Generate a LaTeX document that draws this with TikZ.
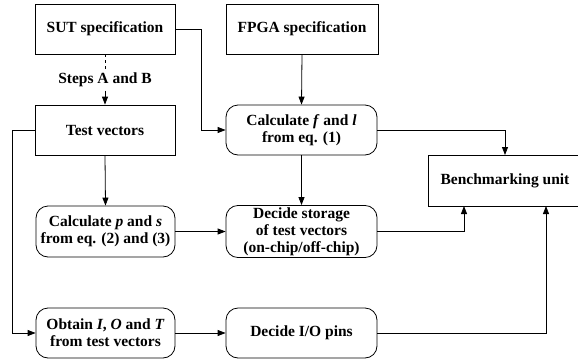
\documentclass[tikz,border=0pt]{standalone}
\usepackage{fontspec}
\setmainfont{Liberation Serif}
\usetikzlibrary{arrows.meta}
\tikzset{
  blk/.style={draw, thick, minimum width=140pt, minimum height=50pt, align=center,
    font=\fontsize{15.5}{17}\selectfont\bfseries, inner sep=2pt},
  rblk/.style={blk, rounded corners=12pt},
  conn/.style={thick, -{Triangle[length=8pt,width=6pt]}}
}
\begin{document}
\begin{tikzpicture}[x=1pt,y=-1pt]
\useasboundingbox (0,0) rectangle (578,362);
% top row
\node[blk] (sut) at (105,29) {SUT specification};
\node[blk, minimum width=152pt] (fpga) at (302,29) {FPGA specification};
\node[font=\fontsize{15.5}{17}\selectfont\bfseries] (steps) at (105,80) {Steps A and B};
% second row
\node[blk] (tv) at (105,130) {Test vectors};
\node[rblk, minimum width=151pt] (calcf) at (301.5,130) {Calculate \textit{f} and \textit{l}\\from eq. (1)};
\node[blk, minimum width=160pt, minimum height=51pt, xshift=3pt] (bench) at (505,180.5) {\hspace*{-6pt}Benchmarking unit};
% third row
\node[rblk, minimum width=139pt, minimum height=51pt] (calcp) at (105.5,231.5) {Calculate \textit{p} and \textit{s}\\from eq. (2) and (3)};
\node[rblk, minimum width=151pt, minimum height=51pt] (store) at (301.5,231.5) {Decide storage\\of test vectors\\(on-chip/off-chip)};
% bottom row
\node[rblk, minimum width=139pt] (obtain) at (105.5,333) {Obtain \textit{I}, \textit{O} and \textit{T}\\from test vectors};
\node[rblk, minimum width=151pt] (pins) at (301.5,333) {Decide I/O pins};
% connectors
\draw[thick, dashed] (sut.south) -- (steps.north);
\draw[conn] (steps.south) -- (tv.north);
\draw[conn] (sut.east) -| (201,130) -- (calcf.west);
\draw[conn] (fpga.south) -- (calcf.north);
\draw[conn] (calcf.east) -| (505,155);
\draw[conn] (calcf.south) -- (store.north);
\draw[conn] (tv.south) -- (calcp.north);
\draw[conn] (calcp.east) -- (store.west);
\draw[conn] (tv.west) -| (12,333) -- (obtain.west);
\draw[conn] (obtain.east) -- (pins.west);
\draw[conn] (store.east) -| (464,206);
\draw[conn] (pins.east) -| (546,206);
\end{tikzpicture}
\end{document}
